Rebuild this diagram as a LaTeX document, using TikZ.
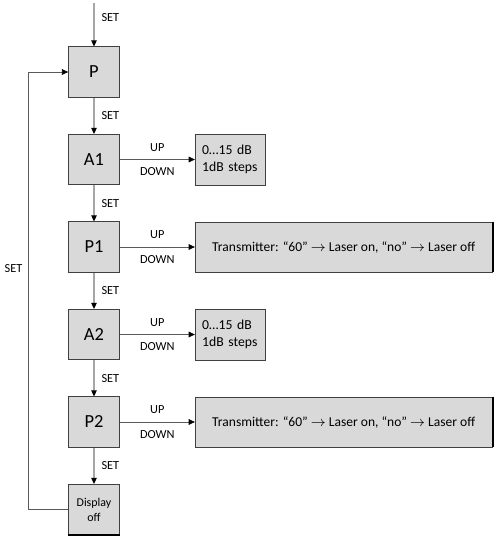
\documentclass[tikz,border=0pt]{standalone}
\usepackage{fontspec}
\setmainfont{Carlito}
\usepackage{tikz}
\usetikzlibrary{shapes.geometric, arrows, arrows.meta, positioning, calc}
\definecolor{boxfill}{HTML}{D9D9D9}
\definecolor{boxline}{HTML}{404040}
\definecolor{wire}{HTML}{A6A6A6}
\definecolor{sidewire}{HTML}{5A5A5A}
\tikzstyle{state} = [rectangle,
minimum width=1.02cm,
minimum height=1.01cm,
text centered,
draw=boxline, fill=boxfill,
font=\fontsize{10.5}{12}\selectfont]
\tikzstyle{rangebox} = [rectangle,
minimum height=1.02cm,
inner xsep=4pt,
text width=1.4cm-8pt,
align=left,
draw=boxline, fill=boxfill,
font=\fontsize{7.8}{9.6}\selectfont]
\tikzstyle{info} = [rectangle,
minimum width=5.94cm,
minimum height=1cm,
text centered,
draw=boxline, fill=boxfill,
font=\fontsize{7.7}{9}\selectfont]
\tikzstyle{lbl} = [font=\fontsize{7}{8}\selectfont, inner sep=1pt]
\tikzstyle{arrow} = [draw=wire, semithick, -{Triangle[length=3.5pt,width=3.2pt,color=black]}]

\begin{document}
\begin{tikzpicture}[node distance=1.75cm]
            \useasboundingbox (0,0) rectangle (10,-10.82);
            \node (p) [state] at (1.88,-1.44) {P};
            \node (a1) [state, below of=p] {A1};
            \node (p1) [state, below of=a1] {P1};
            \node (a2) [state, below of=p1] {A2};
            \node (p2) [state, below of=a2] {P2};
            \node (off) [state, below of=p2, font=\fontsize{6.8}{8.5}\selectfont, align=center] {Display\\off};

            \node (r1) [rangebox, right=1.5cm of a1] {0…15 dB\\1dB steps};
            \node (t1) [info, right=1.5cm of p1] {Transmitter: “60” $\rightarrow$ Laser on, “no” $\rightarrow$ Laser off};
            \node (r2) [rangebox, right=1.5cm of a2] {0…15 dB\\1dB steps};
            \node (t2) [info, right=1.5cm of p2] {Transmitter: “60” $\rightarrow$ Laser on, “no” $\rightarrow$ Laser off};

            % dark edges
            \draw [black, line width=1.2pt] (t1.north east) -- (t1.south east);
            \draw [black, line width=1.2pt] (t2.north east) -- (t2.south east);
            \draw [black, line width=1.2pt] (off.south west) -- (off.south east);

            % SET chain
            \coordinate (start) at (1.88,-0.06);
            \draw [arrow] (start) -- node[lbl, anchor=west, xshift=3pt, yshift=4pt] {SET} (p);
            \draw [arrow] (p) -- node[lbl, anchor=west, xshift=3pt] {SET} (a1);
            \draw [arrow] (a1) -- node[lbl, anchor=west, xshift=3pt] {SET} (p1);
            \draw [arrow] (p1) -- node[lbl, anchor=west, xshift=3pt] {SET} (a2);
            \draw [arrow] (a2) -- node[lbl, anchor=west, xshift=3pt] {SET} (p2);
            \draw [arrow] (p2) -- node[lbl, anchor=west, xshift=3pt] {SET} (off);

            % UP / DOWN
            \draw [arrow, draw=sidewire, thin] (a1) -- node[lbl, above=3.5pt] {UP} node[lbl, below=3.5pt] {DOWN} (r1);
            \draw [arrow, draw=sidewire, thin] (p1) -- node[lbl, above=3.5pt] {UP} node[lbl, below=3.5pt] {DOWN} (t1);
            \draw [arrow, draw=sidewire, thin] (a2) -- node[lbl, above=3.5pt] {UP} node[lbl, below=3.5pt] {DOWN} (r2);
            \draw [arrow, draw=sidewire, thin] (p2) -- node[lbl, above=3.5pt] {UP} node[lbl, below=3.5pt] {DOWN} (t2);

            % back to P
            \coordinate (back) at (0.56,0 |- off.west);
            \draw [arrow, draw=sidewire, thin] (off.west) -- (back) -- node[lbl, anchor=east, pos=0.55, xshift=-2pt] {SET} (back |- p.west) -- (p.west);
        \end{tikzpicture}
\end{document}
